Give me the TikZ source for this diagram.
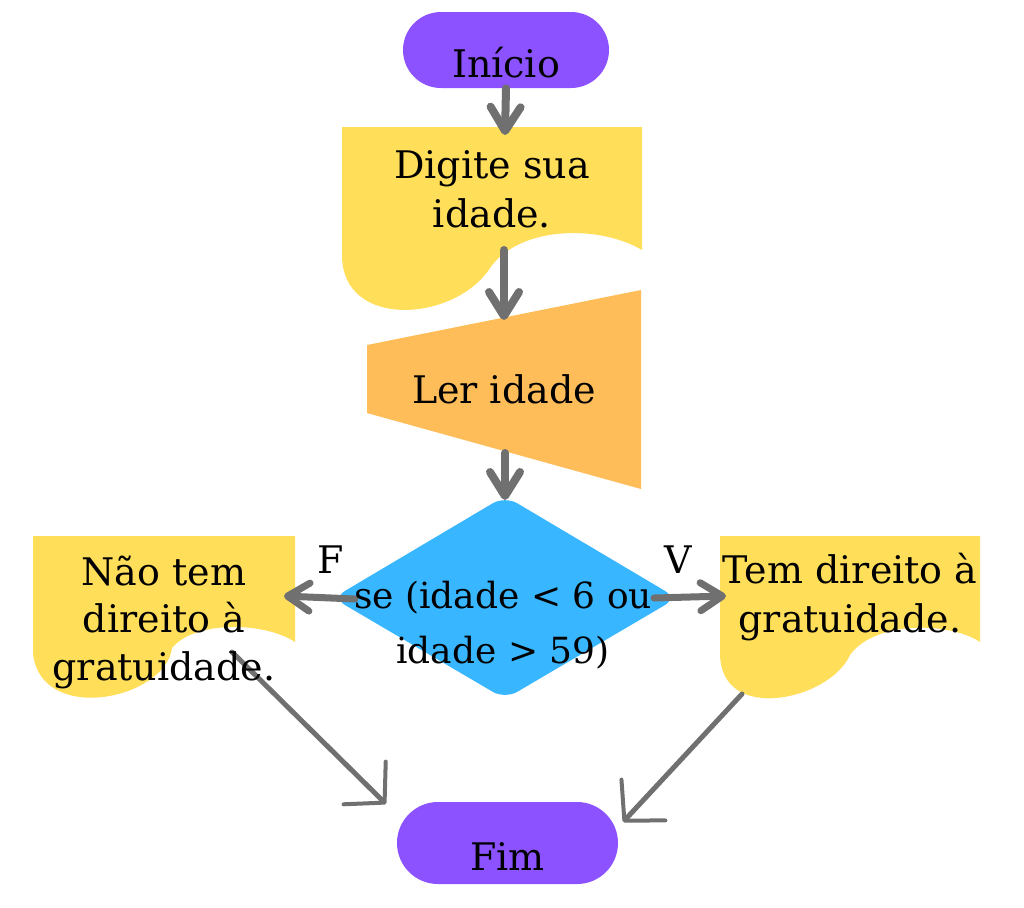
\documentclass[tikz,border=0pt]{standalone}
\usepackage{fontspec}
\setmainfont{DejaVu Serif}
\usetikzlibrary{arrows.meta}
\definecolor{pillpurple}{HTML}{8C52FF}
\definecolor{docyellow}{HTML}{FFDE59}
\definecolor{inorange}{HTML}{FFBD59}
\definecolor{decblue}{HTML}{38B6FF}
\definecolor{arrgray}{HTML}{707070}
\begin{document}
\begin{tikzpicture}[x=0.5pt,y=-0.5pt,
  lbl/.style={font=\fontsize{19}{24.5}\selectfont, text=black, inner sep=0pt, align=center},
  pill/.style={fill=pillpurple, rounded corners=19pt, inner sep=0pt, text height=27pt, text depth=0pt, font=\fontsize{19}{24}\selectfont},
  docshape/.style={fill=docyellow},
  arrv/.style={draw=arrgray, line width=4pt, line cap=round, -{Straight Barb[length=12pt, width=15pt, line width=4pt, round]}},
  arrh/.style={draw=arrgray, line width=3.5pt, line cap=round, -{Straight Barb[length=11pt, width=14pt, line width=3.5pt, round]}},
  arrd/.style={draw=arrgray, line width=2.5pt, line cap=round, -{Straight Barb[length=14pt, width=30pt, line width=2pt, round]}}
]
\useasboundingbox (0,0) rectangle (1024,907);

% start / end
\node[pill, minimum width=103pt, minimum height=38pt] (ini) at (506,50) {Início};
\node[pill, minimum width=110.5pt, minimum height=41pt, rounded corners=20.5pt] (fim) at (507.5,843) {Fim};

% input document
\path[docshape] (342,127) -- (642,127) -- (642,250)
  .. controls (600,225) and (520,225) .. (490,268)
  .. controls (455,322) and (342,330) .. (342,255) -- cycle;
% manual input
\path[fill=inorange] (367,345) -- (641,290) -- (641,489) -- (367,413) -- cycle;
% decision
\path[fill=decblue, rounded corners=7pt] (505,496) -- (677,598) -- (505,699) -- (333,598) -- cycle;
% left output
\path[docshape] (33,536) -- (295,536) -- (295,642)
  .. controls (265,622) and (195,620) .. (172,648)
  .. controls (165,700) and (40,725) .. (33,653) -- cycle;
% right output
\path[docshape] (720,536) -- (980,536) -- (980,642)
  .. controls (950,622) and (875,620) .. (850,655)
  .. controls (830,700) and (720,725) .. (720,653) -- cycle;

% connector end points
\coordinate (dig-in) at (505,135);
\coordinate (dig-out) at (504,250);
\coordinate (ler-in) at (504,320);
\coordinate (ler-out) at (505,453);
\coordinate (dia-top) at (505,500);
\coordinate (dia-l) at (355,599);
\coordinate (dia-r) at (654,598);
\coordinate (nao-in) at (284,596);
\coordinate (tem-in) at (726,596);
\coordinate (nao-out) at (232,652);
\coordinate (tem-out) at (742,694);
\coordinate (fim-l) at (386,804);
\coordinate (fim-r) at (623,822);

\draw[arrv] (ini.south) -- (dig-in);
\draw[arrv] (dig-out) -- (ler-in);
\draw[arrv] (ler-out) -- (dia-top);
\draw[arrh] (dia-l) -- (nao-in);
\draw[arrh] (dia-r) -- (tem-in);
\draw[arrd] (nao-out) -- (fim-l);
\draw[arrd] (tem-out) -- (fim-r);

% texts (base anchor = baseline of the last line)
\node[lbl, anchor=base] (dig) at (492,227) {Digite sua\\idade.};
\node[lbl, anchor=base] (ler) at (504,403) {Ler idade};
\node[lbl, anchor=base, font=\fontsize{18}{27.5}\selectfont] (dec) at (503,663) {se (idade < 6 ou\\idade > 59)};
\node[lbl, anchor=base, font=\fontsize{19}{23.75}\selectfont] (nao) at (164,680) {Não tem\\direito à\\gratuidade.};
\node[lbl, anchor=base] (tem) at (850,632) {Tem direito à\\gratuidade.};
\node[lbl, anchor=base] (F) at (331,573) {F};
\node[lbl, anchor=base] (V) at (678,573) {V};
\end{tikzpicture}
\end{document}
